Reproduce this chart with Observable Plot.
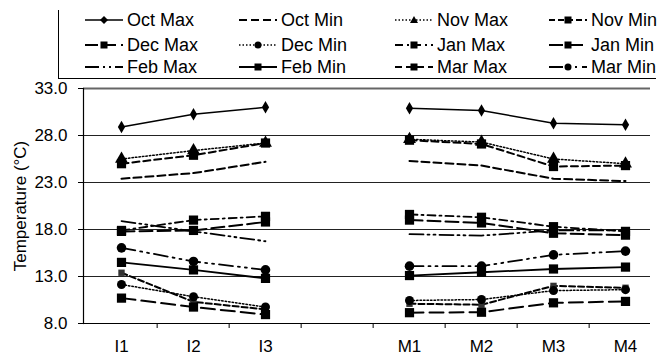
<!DOCTYPE html>
<html>
<head>
<meta charset="utf-8">
<script src="https://cdn.jsdelivr.net/npm/d3@7"></script>
<script src="https://cdn.jsdelivr.net/npm/@observablehq/plot@0.6"></script>
<style>
  html, body { margin: 0; padding: 0; background: #fff; }
  body { width: 672px; height: 358px; position: relative; overflow: hidden; font-family: "Liberation Sans", Arial, sans-serif; }
  #legend { position: absolute; left: 58px; top: 10px; width: 597px; height: 68px; border-left: 1px solid #000; border-bottom: 1px solid #000; }
  .item { position: absolute; display: flex; align-items: center; font-size: 18px; color: #000; height: 20px; white-space: nowrap; }
  .item svg { margin-right: 4px; }
  #chart { position: absolute; left: 0; top: 80px; }
</style>
</head>
<body>
<div id="legend"></div>
<div id="chart"></div>
<script>
// ---- data ----
const categories = ["I1", "I2", "I3", "M1", "M2", "M3", "M4"];
const xDomain = ["I1", "I2", "I3", "gap", "M1", "M2", "M3", "M4"];
const yTicks = [8, 13, 18, 23, 28, 33];

const seriesNames = ["Oct Max", "Oct Min", "Nov Max", "Nov Min", "Dec Max", "Dec Min",
                     "Jan Max", "Jan Min", "Feb Max", "Feb Min", "Mar Max", "Mar Min"];

const octMax = [28.9, 30.25, 31.0, 30.9, 30.65, 29.3, 29.15];
const octMin = [23.4, 24.0, 25.2, 25.3, 24.8, 23.4, 23.15];
const novMax = [25.5, 26.4, 27.2, 27.6, 27.3, 25.5, 25.0];
const novMin = [13.4, 10.3, 9.5, 10.1, 10.0, 12.0, 11.8];
const decMax = [17.8, 17.9, 18.8, 19.0, 18.7, 17.6, 17.4];
const decMin = [12.15, 10.85, 9.75, 10.45, 10.55, 11.5, 11.6];
const janMax = [17.9, 19.0, 19.4, 19.6, 19.3, 18.3, 17.8];
const janMin = [10.7, 9.75, 8.95, 9.15, 9.2, 10.2, 10.35];
const febMax = [18.9, 17.8, 16.75, 17.5, 17.35, 17.9, 17.9];
const febMin = [14.5, 13.7, 12.8, 13.1, 13.45, 13.8, 14.0];
const marMax = [25.0, 25.9, 27.2, 27.5, 27.1, 24.7, 24.8];
const marMin = [16.05, 14.6, 13.7, 14.1, 14.1, 15.3, 15.7];

const seriesValues = [octMax, octMin, novMax, novMin, decMax, decMin,
                      janMax, janMin, febMax, febMin, marMax, marMin];

// ---- styles ----
const styles = {
  "Oct Max": {dash: null, width: 1.5, symbol: "diamond", r: 3.8},
  "Oct Min": {dash: "8,4", width: 2, symbol: null},
  "Nov Max": {dash: "1.5,2", width: 1.5, symbol: "triangle", r: 4.8},
  "Nov Min": {dash: "6,3", width: 2, symbol: "square", r: 3.6},
  "Dec Max": {dash: "13,5", width: 2, symbol: "square", r: 5.2},
  "Dec Min": {dash: "1.5,2", width: 1.5, symbol: "circle", r: 4.5},
  "Jan Max": {dash: "8,4,2,4", width: 1.8, symbol: "square", r: 5.2},
  "Jan Min": {dash: "14,6", width: 2, symbol: "square", r: 5.2},
  "Feb Max": {dash: "14,4,2,4,2,4", width: 1.8, symbol: null},
  "Feb Min": {dash: null, width: 1.8, symbol: "square", r: 5.2},
  "Mar Max": {dash: "7,4", width: 2, symbol: "square", r: 5.2},
  "Mar Min": {dash: "14,5,2,5,2,5", width: 1.8, symbol: "circle", r: 4.8}
};

const rows = [];
seriesNames.forEach((s, k) => {
  categories.forEach((c, i) => {
    rows.push({series: s, cat: c, site: c[0], value: seriesValues[k][i]});
  });
});

// ---- chart ----
const step = (627 - 118) / 7;
const marks = [
  Plot.ruleY(yTicks.filter(t => t > 8 && t < 33), {stroke: "#222", strokeWidth: 1.2, insetRight: 12}),
  Plot.ruleY([33], {stroke: "#666", strokeWidth: 2, insetRight: 12}),
  Plot.ruleY([8], {stroke: "#000", strokeWidth: 1.2, insetRight: 12}),
  Plot.frame({anchor: "left", stroke: "#000", strokeWidth: 1.2}),
  Plot.axisY({ticks: yTicks, tickFormat: d => d.toFixed(1), tickSize: 5, tickPadding: 11,
              fontSize: 17, label: "Temperature (°C)", labelAnchor: "center", labelArrow: "none",
              labelOffset: 70}),
  Plot.axisX({ticks: ["I2", "I3", "gap", "M1", "M2", "M3", "M4"], tickSize: 5, tickFormat: () => "",
              dx: -step / 2, label: null}),
  Plot.axisX({ticks: categories, tickSize: 0, tickPadding: 16, fontSize: 17, label: null})
];
seriesNames.forEach(s => {
  const st = styles[s];
  const data = rows.filter(d => d.series === s);
  marks.push(Plot.line(data, {x: "cat", y: "value", z: "site", stroke: "#000",
    strokeWidth: st.width, strokeDasharray: st.dash || undefined}));
});
seriesNames.forEach(s => {
  const st = styles[s];
  if (!st.symbol) return;
  const data = rows.filter(d => d.series === s);
  marks.push(Plot.dot(data, {x: "cat", y: "value", symbol: () => st.symbol, r: st.r,
    fill: s === "Nov Min" ? "#333" : "#000", stroke: "none"}));
});

const chart = Plot.plot({
  width: 672,
  height: 278,
  marginLeft: 83,
  marginRight: 10,
  marginTop: 8,
  marginBottom: 35,
  x: {type: "point", domain: xDomain, padding: 0.48, axis: null},
  y: {domain: [8, 33], axis: null},
  symbol: {type: "identity"},
  style: {fontFamily: "'Liberation Sans', Arial, sans-serif", fontSize: "17px", color: "#000", background: "#fff", overflow: "visible"},
  marks
});
document.getElementById("chart").appendChild(chart);

// ---- legend ----
const legend = document.getElementById("legend");
const colX = [26, 180, 336, 490];
const rowY = [0, 25, 47];
const symPaths = {
  diamond: (cx, cy) => `<path d="M${cx},${cy-4}L${cx+4},${cy}L${cx},${cy+4}L${cx-4},${cy}Z"/>`,
  triangle: (cx, cy) => `<path d="M${cx},${cy-4}L${cx+4},${cy+3}L${cx-4},${cy+3}Z"/>`,
  square: (cx, cy) => `<rect x="${cx-3.5}" y="${cy-3.5}" width="7" height="7"/>`,
  circle: (cx, cy) => `<circle cx="${cx}" cy="${cy}" r="3.5"/>`
};
seriesNames.forEach((s, k) => {
  const st = styles[s];
  const col = k % 4, row = Math.floor(k / 4);
  const w = 38;
  const svg = `<svg width="${w}" height="14" viewBox="0 0 ${w} 14">` +
    `<line x1="0" y1="7" x2="${w}" y2="7" stroke="#000" stroke-width="${st.width}" ${st.dash ? `stroke-dasharray="${st.dash}"` : ""}/>` +
    (st.symbol ? `<g fill="#000">${symPaths[st.symbol](w / 2, 7)}</g>` : "") +
    `</svg>`;
  const div = document.createElement("div");
  div.className = "item";
  div.style.left = colX[col] + "px";
  div.style.top = rowY[row] + "px";
  div.innerHTML = svg + `<span>${s}</span>`;
  legend.appendChild(div);
});
</script>
</body>
</html>
